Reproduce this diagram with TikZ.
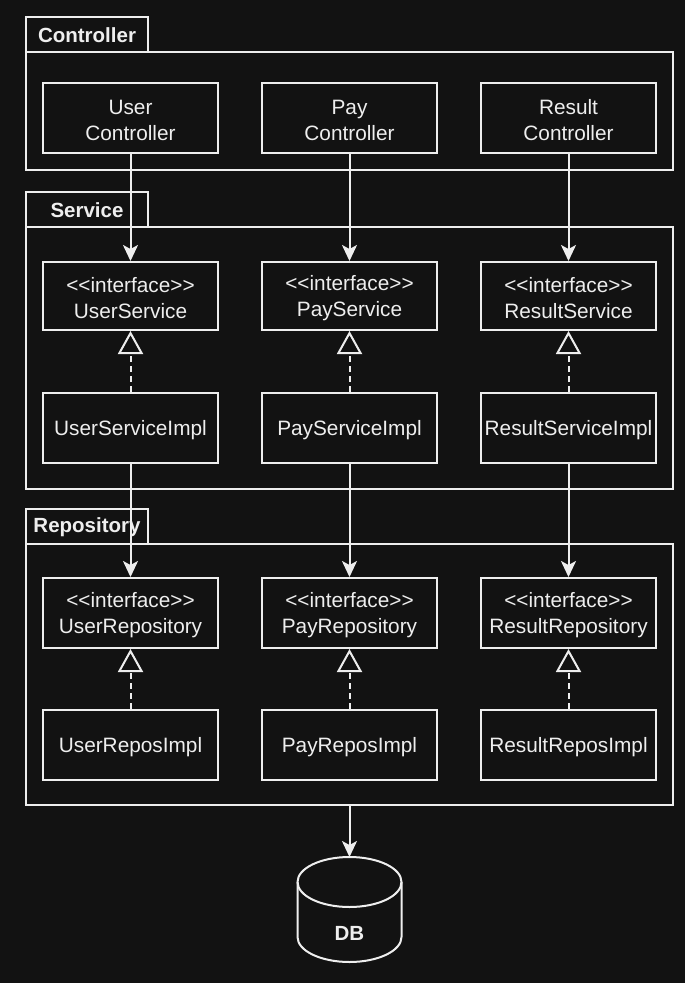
\documentclass[tikz,border=0pt]{standalone}
\usepackage{fontspec}
\newfontfamily\uifont{Liberation Sans}[Ligatures=ResetAll]
\usetikzlibrary{arrows.meta}
\definecolor{bg}{HTML}{121212}
\definecolor{fg}{HTML}{EEEEEE}
\begin{document}
\begin{tikzpicture}[x=1pt,y=-1pt,
  every node/.style={font=\uifont\fontsize{20.8}{26}\selectfont, text=fg, align=center},
  pkg/.style={draw=fg, line width=2pt},
  cls/.style={draw=fg, line width=2pt, fill=bg, minimum width=175pt, minimum height=70pt, inner sep=0pt},
  tabtxt/.style={font=\uifont\bfseries\fontsize{20.5}{24}\selectfont},
  dep/.style={draw=fg, line width=2pt, -{Stealth[length=16pt,width=15pt,inset=4pt]}},
  impl/.style={draw=fg, line width=2pt, dash pattern=on 6pt off 4pt, -{Triangle[open,length=23pt,width=25pt]}}
]
\fill[bg] (0,0) rectangle (685,983);
\useasboundingbox (0,0) rectangle (685,983);
% packages
\draw[pkg] (26,17) rectangle (148,52);
\node[tabtxt] (tc) at (87,35) {Controller};
\draw[pkg] (26,52) rectangle (673,170);
\draw[pkg] (26,192) rectangle (148,227);
\node[tabtxt] (ts) at (87,210) {Service};
\draw[pkg] (26,227) rectangle (673,489);
\draw[pkg] (26,509) rectangle (148,544);
\node[tabtxt] (tr) at (87,527) {Repository};
\draw[pkg] (26,544) rectangle (673,805);
\coordinate (repobot) at (349.5,805);
% classes
\foreach \n/\x in {User/130.5,Pay/349.5,Result/568.5}{
  \node[cls] (\n C) at (\x,118) {};
  \node (\n Ct) at (\x,120) {\n\\Controller};
  \node[cls,minimum height=68pt] (\n S) at (\x,296) {};
  \node (\n St) at (\x,298) {<<interface>>\\\n Service};
  \node[cls] (\n SI) at (\x,428) {};
  \node (\n SIt) at (\x,430) {\n ServiceImpl};
  \node[cls] (\n R) at (\x,613) {};
  \node (\n Rt) at (\x,615) {<<interface>>\\\n Repository};
  \node[cls] (\n RI) at (\x,745) {};
  \node (\n RIt) at (\x,747) {\n ReposImpl};
  \draw[dep] (\n C) -- (\n S);
  \draw[impl] (\n SI) -- (\n S);
  \draw[dep] (\n SI) -- (\n R);
  \draw[impl] (\n RI) -- (\n R);
}
% DB cylinder
\def\cx{349.5}\def\rx{52}\def\ry{25}
\draw[fg, line width=2pt, fill=bg] (\cx-\rx,882) -- (\cx-\rx,937) arc[start angle=180,end angle=0,x radius=\rx,y radius=\ry] -- (\cx+\rx,882) arc[start angle=0,end angle=-180,x radius=\rx,y radius=\ry] -- cycle;
\draw[fg, line width=2pt] (\cx-\rx,882) arc[start angle=180,end angle=0,x radius=\rx,y radius=\ry];
\node[font=\uifont\bfseries\fontsize{20.5}{24}\selectfont] (db) at (\cx,933) {DB};
\coordinate (dbtop) at (\cx,857);
\draw[dep] (repobot) -- (dbtop);
\end{tikzpicture}
\end{document}
